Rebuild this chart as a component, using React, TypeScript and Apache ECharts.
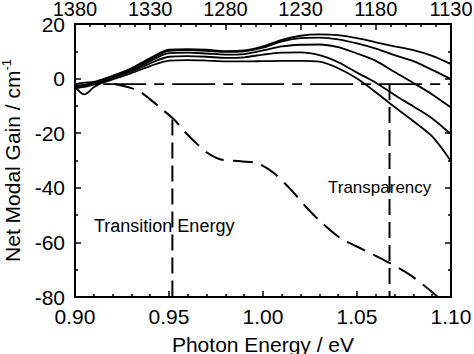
import React, { useEffect, useRef } from "react";
import * as echarts from "echarts";

const energies = [0.900, 0.905, 0.910, 0.915, 0.920, 0.930, 0.940, 0.950, 0.960, 0.970, 0.980, 0.990, 1.000, 1.010, 1.020, 1.030, 1.040, 1.050, 1.060, 1.070, 1.080, 1.090, 1.100];
const gain1 = [-2.0, -1.5, -1.2, -0.2, 1.0, 3.8, 7.5, 10.6, 10.8, 10.6, 10.1, 10.3, 11.8, 14.2, 15.7, 16.2, 15.9, 14.8, 13.3, 11.8, 10.4, 8.3, 5.3];
const gain2 = [-2.5, -2.2, -1.5, -0.5, 0.8, 3.5, 7.0, 10.2, 10.4, 10.2, 9.8, 10.0, 11.3, 13.6, 14.8, 15.0, 14.4, 12.9, 11.0, 8.6, 6.4, 3.2, -0.2];
const gain3 = [-2.8, -2.6, -1.8, -0.8, 0.5, 3.0, 6.4, 9.3, 9.5, 9.2, 8.8, 9.0, 10.3, 11.8, 12.4, 12.5, 11.5, 9.2, 6.5, 2.4, -1.6, -5.8, -10.6];
const gain4 = [-3.0, -5.8, -3.2, -1.2, 0.2, 2.6, 5.6, 8.0, 8.2, 8.0, 7.6, 7.8, 8.8, 9.5, 9.6, 8.6, 6.0, 2.2, -1.5, -6.0, -10.2, -14.6, -20.4];
const gain5 = [-3.5, -3.0, -2.2, -1.4, -0.3, 2.0, 4.6, 6.6, 6.8, 6.6, 6.3, 6.3, 6.4, 6.5, 6.5, 6.2, 3.8, 0.0, -5.0, -10.4, -15.6, -21.2, -30.3];

const absEnergies = [0.921, 0.930, 0.935, 0.940, 0.945, 0.9527, 0.958, 0.965, 0.9704, 0.9775, 0.988, 0.997, 1.0056, 1.0146, 1.0234, 1.0305, 1.0411, 1.0535, 1.0659, 1.0782, 1.086, 1.093];
const absGain = [-2, -3.5, -5, -7.6, -10.5, -15, -19.2, -24, -27.2, -29.6, -30.3, -31, -34.5, -40.5, -47.4, -52.3, -58.4, -62.7, -67, -71.9, -76, -80];

const zeroLineE = [0.915, 1.10];
const zeroLineGain = [-2, -2];

const transitionE = 0.9518;
const transitionRange = [-15, -80];
const transparencyE = 1.0673;
const transparencyRange = [-2, -80];

const topTickStart = 1380;
const topTickStep = 50;
const topTickSpan = 250;

const yTicks = { min: -80, max: 20, step: 20 };

const FONT = "Liberation Sans, Arial, Helvetica, sans-serif";

function pairs(xs: number[], ys: number[]) {
  return xs.map((x, i) => [x, ys[i]]);
}

export default function App() {
  const ref = useRef<HTMLDivElement>(null);
  useEffect(() => {
    if (!ref.current) return;
    const chart = echarts.init(ref.current, null, { renderer: "svg" });
    const solid = (data: number[]) => ({
      type: "line",
      data: pairs(energies, data),
      showSymbol: false,
      smooth: 0.3,
      lineStyle: { color: "#000", width: 1.8 },
      xAxisIndex: 0,
      yAxisIndex: 0,
    });
    const tickStyle = { lineStyle: { color: "#000", width: 1.5 } };
    chart.setOption({
      animation: false,
      backgroundColor: "#fff",
      grid: { left: 75, right: 23, top: 24, bottom: 57, containLabel: false, outerBoundsMode: "none" },
      xAxis: [
        {
          type: "value",
          position: "bottom",
          min: 0.9,
          max: 1.1,
          interval: 0.05,
          name: "Photon Energy / eV",
          nameLocation: "middle",
          nameGap: 37,
          nameTextStyle: { fontFamily: FONT, fontSize: 21, color: "#000" },
          axisLine: { onZero: false, lineStyle: { color: "#000", width: 2 } },
          axisTick: { inside: true, length: 6, ...tickStyle },
          minorTick: { show: true, splitNumber: 5, length: 3, ...tickStyle },
          splitLine: { show: false },
          axisLabel: {
            margin: 9,
            fontFamily: FONT,
            fontSize: 21,
            color: "#000",
            formatter: (v: number) => v.toFixed(2),
          },
        },
        {
          type: "value",
          position: "top",
          min: 0,
          max: topTickSpan,
          interval: topTickStep,
          axisLine: { onZero: false, lineStyle: { color: "#000", width: 2 } },
          axisTick: { inside: true, length: 6, ...tickStyle },
          minorTick: { show: true, splitNumber: 5, length: 3, ...tickStyle },
          splitLine: { show: false },
          axisLabel: {
            margin: 8,
            lineHeight: 14,
            fontFamily: FONT,
            fontSize: 20,
            color: "#000",
            formatter: (v: number) => String(topTickStart - v),
          },
        },
      ],
      yAxis: [
        {
          type: "value",
          position: "left",
          min: yTicks.min,
          max: yTicks.max,
          interval: yTicks.step,
          name: "Net Modal Gain / cm{sup|-1}",
          nameLocation: "middle",
          nameGap: 50,
          nameTextStyle: {
            fontFamily: FONT,
            fontSize: 21,
            color: "#000",
            rich: {
              sup: { fontFamily: FONT, fontSize: 13, color: "#000", verticalAlign: "top", padding: [0, 0, 12, 0] },
            },
          },
          axisLine: { onZero: false, lineStyle: { color: "#000", width: 2 } },
          axisTick: { inside: true, length: 6, ...tickStyle },
          minorTick: { show: true, splitNumber: 2, length: 3, ...tickStyle },
          splitLine: { show: false },
          axisLabel: { margin: 10, lineHeight: 14, fontFamily: FONT, fontSize: 21, color: "#000" },
        },
        {
          type: "value",
          position: "right",
          min: yTicks.min,
          max: yTicks.max,
          interval: yTicks.step,
          axisLine: { show: true, onZero: false, lineStyle: { color: "#000", width: 2 } },
          axisTick: { inside: true, length: 6, ...tickStyle },
          minorTick: { show: true, splitNumber: 2, length: 3, ...tickStyle },
          splitLine: { show: false },
          axisLabel: { show: false },
        },
      ],
      series: [
        {
          type: "line",
          data: pairs(zeroLineE, zeroLineGain),
          showSymbol: false,
          lineStyle: { color: "#000", width: 1.8, type: [43, 8, 10, 8] },
        },
        solid(gain1),
        solid(gain2),
        solid(gain3),
        solid(gain4),
        solid(gain5),
        {
          type: "line",
          data: pairs(absEnergies, absGain),
          showSymbol: false,
          smooth: 0.3,
          lineStyle: { color: "#000", width: 2, type: [20, 9] },
        },
        {
          type: "line",
          data: [[transitionE, transitionRange[0]], [transitionE, transitionRange[1]]],
          showSymbol: false,
          lineStyle: { color: "#000", width: 2, type: [16, 7] },
        },
        {
          type: "line",
          data: [[transparencyE, transparencyRange[0]], [transparencyE, transparencyRange[1]]],
          showSymbol: false,
          lineStyle: { color: "#000", width: 2, type: [16, 7] },
        },
      ],
      graphic: [
        {
          type: "text",
          left: 94,
          top: 217,
          style: { text: "Transition Energy", fontFamily: FONT, fontSize: 18, fill: "#000" },
        },
        {
          type: "text",
          left: 328,
          top: 179,
          style: { text: "Transparency", fontFamily: FONT, fontSize: 17, fill: "#000" },
        },
      ],
    });
    return () => chart.dispose();
  }, []);
  return <div ref={ref} style={{ width: 474, height: 354, position: "absolute", left: 0, top: 0 }} />;
}
